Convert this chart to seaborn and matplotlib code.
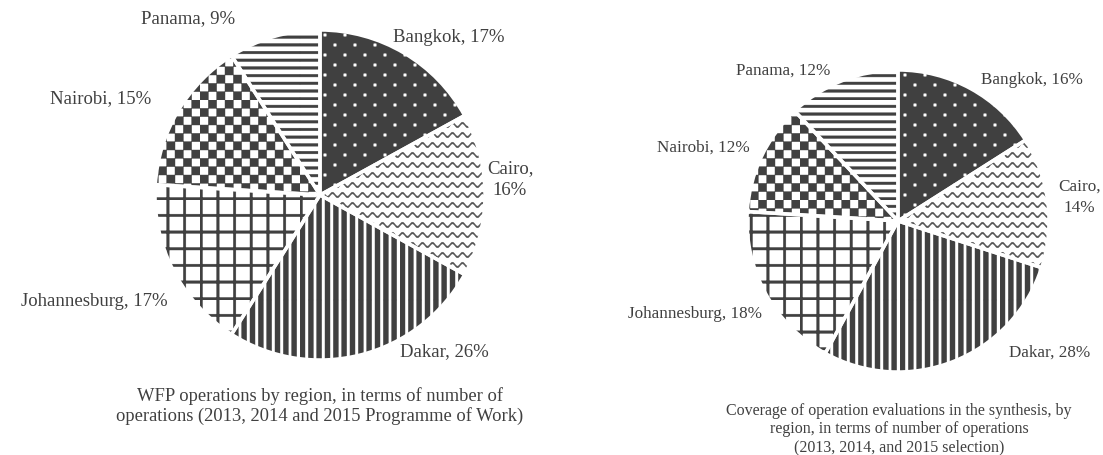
import numpy as np
import matplotlib
matplotlib.use("Agg")
import matplotlib.pyplot as plt
import matplotlib.hatch as mhatch
from matplotlib.path import Path
import seaborn as sns

# Datos
regiones = ["Bangkok", "Cairo", "Dakar", "Johannesburg", "Nairobi", "Panama"]
ops_pct = [17, 16, 26, 17, 15, 9]          # grafico izquierdo
eval_pct = [16, 14, 28, 18, 12, 12]        # grafico derecho
titulo_izq = "WFP operations by region, in terms of number of\noperations (2013, 2014 and 2015 Programme of Work)"
titulo_der = ("Coverage of operation evaluations in the synthesis, by\n"
              "region, in terms of number of operations\n(2013, 2014, and 2015 selection)")

sns.set_theme(style="white")
plt.rcParams["font.family"] = ["Liberation Serif", "DejaVu Serif"]
plt.rcParams["hatch.linewidth"] = 0.3

GRIS = "#404040"


# Tramas propias (celda de 1x1 = 1 pulgada)
def caja(x0, y0, w, h):
    return np.array([[x0, y0], [x0 + w, y0], [x0 + w, y0 + h], [x0, y0 + h]])


def onda(y0, amp, grosor, periodos=10):
    x = np.linspace(0, 1, periodos * 16 + 1)
    y = y0 + amp * np.sin(2 * np.pi * periodos * x)
    arriba = np.column_stack([x, y + grosor / 2])
    abajo = np.column_stack([x[::-1], (y - grosor / 2)[::-1]])
    return np.vstack([arriba, abajo])


def trama(polis):
    paths = [Path(np.vstack([p, p[:1]]), closed=True) for p in polis]
    return Path.make_compound_path(*paths)


n = 10
puntos = [caja((i + 0.5) / n - 0.012, (j + 0.5) / n - 0.012, 0.024, 0.024)
          for i in range(n) for j in range(n) if (i + j) % 2 == 0]
ondas = [onda((j + 0.5) / 10, 0.02, 0.017) for j in range(10)]
verticales = [caja(i / 12, 0, 0.05, 1) for i in range(12)]
rejilla = [caja(i / 6, 0, 0.025, 1) for i in range(6)] + [caja(0, j / 6, 1, 0.025) for j in range(6)]
ajedrez = [caja(i / 12, j / 12, 1 / 12, 1 / 12)
           for i in range(12) for j in range(12) if (i + j) % 2 == 0]
horizontales = [caja(0, j / 13, 1, 0.026) for j in range(13)]

TRAMAS = {
    ".": trama(puntos),
    "*": trama(ondas),
    "|": trama(verticales),
    "+": trama(rejilla),
    "x": trama(ajedrez),
    "-": trama(horizontales),
}
mhatch.get_path = lambda hatchpattern, density=6: TRAMAS[hatchpattern]

hatches = [".", "*", "|", "+", "x", "-"]
relleno = [GRIS, "white", "white", "white", "white", "white"]
color_trama = ["white", "#555555", GRIS, GRIS, GRIS, GRIS]

# desplazamiento de etiquetas (puntos) respecto al borde
offs_izq = [(32, 12), (18, 12), (60, 3), (-57, -22), (-56, 10), (-62, 14)]
offs_der = [(44, 7), (23, 4), (69, 7), (-51, -14), (-42, 7), (-43, 8)]

fig = plt.figure(figsize=(11.03, 4.56), dpi=100)


def pastel(rect, valores, offs, tam):
    ax = fig.add_axes(rect)
    cunas, _ = ax.pie(valores, startangle=90, counterclock=False,
                      colors=relleno, wedgeprops=dict(linewidth=0))
    for w, h, c in zip(cunas, hatches, color_trama):
        w.set_hatch(h)
        w.set_edgecolor(c)
    # lineas blancas entre sectores
    ax.pie(valores, startangle=90, counterclock=False,
           wedgeprops=dict(fill=False, edgecolor="white", linewidth=2.5))
    for w, reg, v, off in zip(cunas, regiones, valores, offs):
        ang = np.deg2rad((w.theta1 + w.theta2) / 2)
        txt = f"{reg},\n{v}%" if reg == "Cairo" else f"{reg}, {v}%"
        ax.annotate(txt, xy=(np.cos(ang), np.sin(ang)), xytext=off,
                    textcoords="offset points", ha="center", va="center",
                    multialignment="center", fontsize=tam, color=GRIS,
                    linespacing=1.4, annotation_clip=False)
    ax.set_xlim(-1, 1)
    ax.set_ylim(-1, 1)
    ax.axis("off")
    return ax


W, H = 1103, 456
pastel([155 / W, (H - 361) / H, 330 / W, 330 / H], ops_pct, offs_izq, 13.5)
pastel([747 / W, (H - 373) / H, 302 / W, 302 / H], eval_pct, offs_der, 12.3)

fig.text(320 / W, 1 - 406 / H, titulo_izq, ha="center", va="center",
         fontsize=13.3, color=GRIS, linespacing=1.2)
fig.text(899 / W, 1 - 429 / H, titulo_der, ha="center", va="center",
         fontsize=11.5, color=GRIS, linespacing=1.2)

fig.savefig("out.png", dpi=100, facecolor="white")
